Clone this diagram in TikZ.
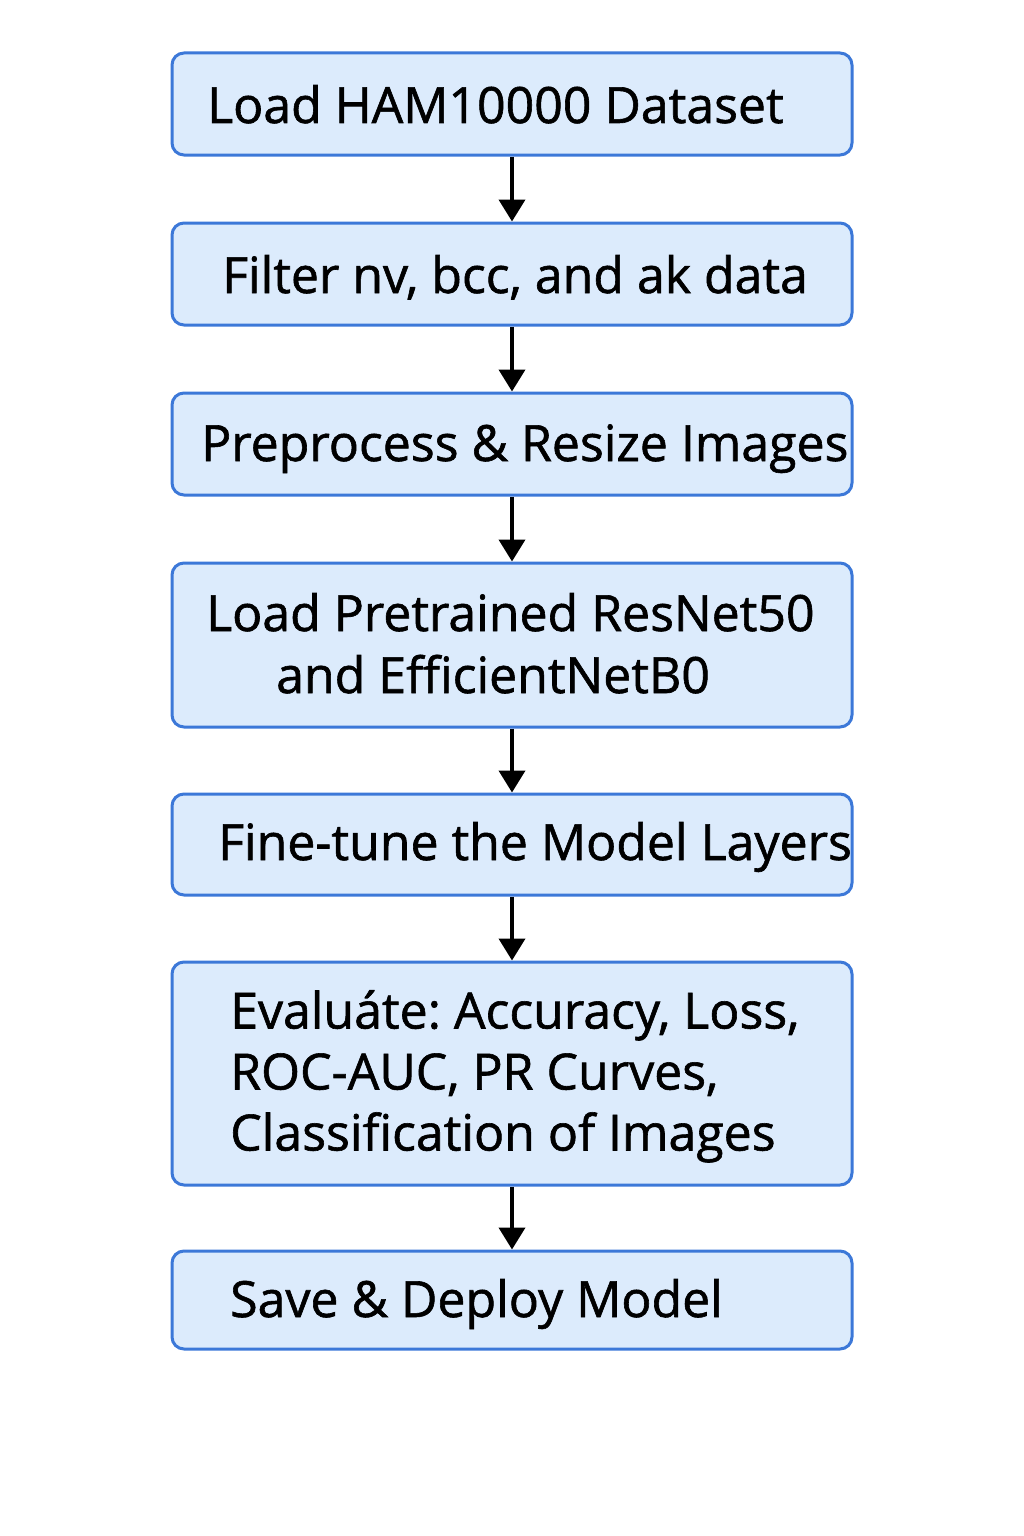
\documentclass[tikz,border=0pt]{standalone}
\usepackage{fontspec}
\setmainfont{Open Sans}[FakeBold=1.2]
\frenchspacing
\usetikzlibrary{arrows.meta}
\definecolor{boxfill}{HTML}{DCEBFC}
\definecolor{boxline}{HTML}{3C78D8}
\begin{document}
\begin{tikzpicture}[x=1pt, y=-1pt, >={Triangle[length=22pt,width=26pt]}]
 \tikzstyle{every node}=[inner sep=0pt]
 \tikzstyle{stepbox}=[draw=boxline, fill=boxfill, line width=3pt, rounded corners=12pt, minimum width=680pt]
 \tikzstyle{txt}=[anchor=base west, font=\fontsize{50}{61}\selectfont]
 \tikzstyle{flow}=[->, line width=4pt]
 \useasboundingbox (0,0) rectangle (1024,1536);
 \node[stepbox, minimum height=102pt] (load)   at (512,104)    {};
 \node[stepbox, minimum height=102pt] (filter) at (512,274)    {};
 \node[stepbox, minimum height=102pt] (prep)   at (512,444)    {};
 \node[stepbox, minimum height=164pt] (model)  at (512,645)    {};
 \node[stepbox, minimum height=101pt] (tune)   at (512,844.5)  {};
 \node[stepbox, minimum height=223pt] (eval)   at (512,1073.5) {};
 \node[stepbox, minimum height=98pt]  (save)   at (512,1300)   {};
 \node[txt] (tload)   at (207,123)  {Load HAM10000 Dataset};
 \node[txt] (tfilter) at (222,293)  {Filter nv, bcc, and ak data};
 \node[txt] (tprep)   at (201,461)  {Preprocess \& Resize Images};
 \node[txt] (tmodel)  at (206,631)  {Load Pretrained ResNet50};
 \node[txt] (tmodelb) at (276,693)  {and EfficientNetB0};
 \node[txt] (ttune)   at (218,860)  {Fine-tune the Model Layers};
 \node[txt, align=left, anchor=north west] (teval) at (230,990) {Evaluáte: Accuracy, Loss,\\ROC-AUC, PR Curves,\\Classification of Images};
 \node[txt] (tsave)   at (230,1317) {Save \& Deploy Model};
  \draw[flow] (load) to (filter);
  \draw[flow] (filter) to (prep);
  \draw[flow] (prep) to (model);
  \draw[flow] (model) to (tune);
  \draw[flow] (tune) to (eval);
  \draw[flow] (eval) to (save);
\end{tikzpicture}
\end{document}
